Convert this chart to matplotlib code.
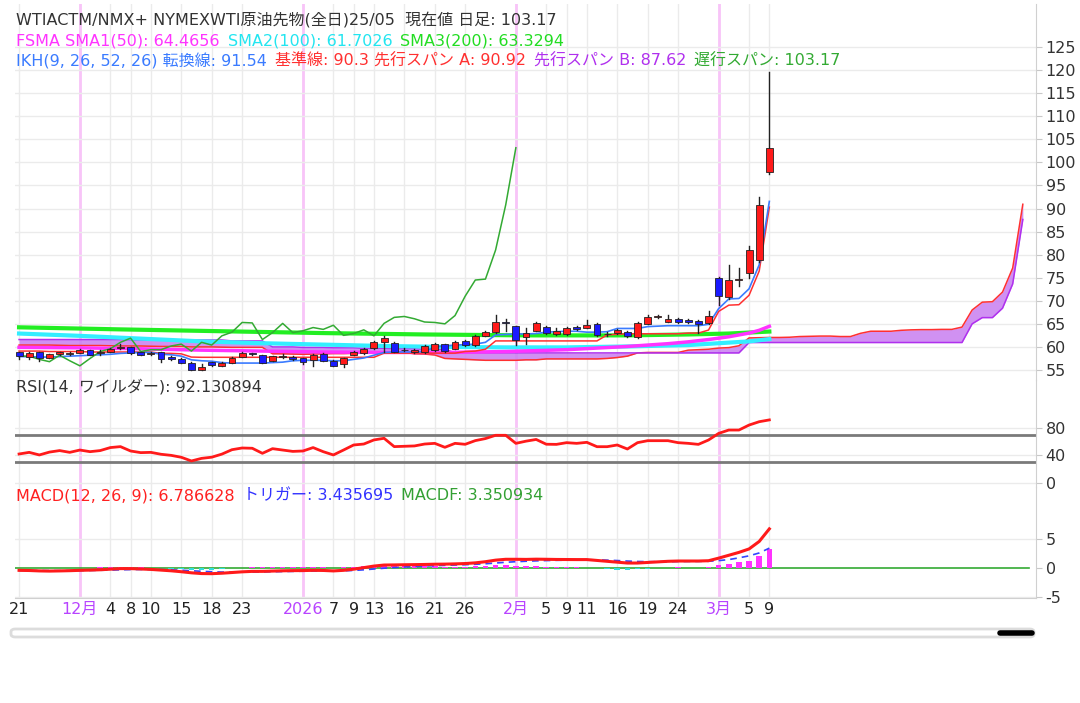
import matplotlib
matplotlib.use('Agg')
import matplotlib.pyplot as plt
import matplotlib.patches as mpatches
import numpy as np

plt.rcParams['font.family'] = ['DejaVu Sans', 'Noto Sans CJK JP']
plt.rcParams['axes.unicode_minus'] = False

W, H = 1080, 703

# ---- data (bar index 0 = 11/21, 74 = 3/9) ----
opens = [58.8, 57.9, 58.8, 57.7, 58.4, 58.55, 58.75, 59.3, 58.6, 58.9,
         59.7, 59.9, 58.9, 58.5, 58.8, 57.9, 57.3, 56.6, 55.0, 56.7,
         55.9, 56.6, 57.9, 58.6, 58.2, 57.0, 57.8, 57.9, 57.5, 57.2,
         58.5, 57.0, 56.3, 58.3, 58.6, 59.7, 61.0, 60.9, 59.3, 58.8,
         58.8, 59.3, 60.6, 59.6, 61.3, 60.4, 62.4, 63.3, 65.4, 64.5,
         62.1, 63.5, 64.4, 62.9, 62.7, 64.4, 64.1, 65.0, 62.7, 63.1,
         63.2, 62.1, 65.0, 66.5, 65.5, 66.1, 65.8, 65.7, 65.1, 75.0,
         70.8, 74.5, 76.0, 78.8, 98.0]
highs = [59.0, 58.8, 58.9, 58.5, 59.0, 59.0, 59.6, 59.4, 59.3, 59.8,
         60.6, 60.0, 59.0, 58.9, 58.9, 58.0, 57.5, 56.7, 56.4, 56.8,
         56.7, 57.8, 58.8, 58.7, 58.3, 58.1, 58.4, 58.0, 57.6, 58.4,
         58.6, 57.1, 57.6, 59.2, 59.8, 61.2, 62.4, 61.0, 59.8, 59.5,
         60.4, 60.8, 60.7, 61.2, 61.4, 62.6, 63.4, 67.0, 66.0, 64.6,
         64.0, 65.5, 64.5, 64.0, 64.4, 64.6, 65.9, 65.1, 63.2, 63.9,
         63.4, 65.3, 67.0, 66.9, 67.0, 66.3, 66.0, 65.8, 67.8, 75.1,
         77.8, 77.0, 81.9, 92.4, 119.5]
lows = [57.4, 57.4, 57.0, 57.5, 58.3, 58.3, 58.6, 58.2, 58.3, 58.8,
        59.5, 58.5, 58.2, 58.2, 56.8, 57.2, 56.5, 55.0, 54.9, 55.9,
        55.8, 56.5, 57.8, 58.3, 56.5, 56.9, 57.6, 57.2, 56.3, 55.8,
        56.9, 55.8, 55.6, 58.2, 58.5, 59.6, 59.0, 58.9, 59.1, 58.7,
        58.7, 59.2, 59.0, 59.5, 60.3, 60.3, 62.3, 63.0, 63.5, 60.5,
        60.6, 63.4, 62.9, 62.6, 62.6, 63.6, 64.0, 62.4, 62.4, 62.9,
        62.2, 62.0, 64.9, 66.3, 65.4, 65.2, 65.1, 63.1, 65.0, 69.1,
        70.3, 73.2, 74.9, 78.5, 97.5]
closes = [58.0, 58.6, 57.7, 58.4, 58.8, 58.65, 59.3, 58.3, 59.0, 59.6,
          60.0, 58.6, 58.3, 58.7, 57.3, 57.3, 56.6, 55.1, 55.7, 56.0,
          56.6, 57.7, 58.6, 58.4, 56.6, 58.0, 58.0, 57.3, 56.8, 58.2,
          57.0, 55.9, 57.5, 59.0, 59.6, 61.0, 61.9, 59.0, 59.4, 59.4,
          60.2, 60.6, 59.1, 61.0, 60.4, 62.4, 63.2, 65.3, 65.2, 61.6,
          63.1, 65.1, 63.1, 63.5, 64.2, 63.8, 64.7, 62.5, 62.9, 63.7,
          62.4, 65.1, 66.4, 66.6, 66.1, 65.4, 65.3, 65.0, 66.8, 71.0,
          74.5, 74.7, 81.0, 90.8, 103.17]

# moving averages (sampled bars)
sma1_x = [0, 6, 12, 18, 24, 30, 36, 42, 48, 54, 60, 64, 66, 68, 70, 72, 73, 74]
sma1_y = [59.9, 59.8, 59.6, 59.3, 59.1, 58.9, 58.8, 58.8, 59.0, 59.4, 60.1,
          60.7, 61.1, 61.6, 62.2, 63.0, 63.6, 64.47]
sma2_x = [0, 6, 12, 18, 24, 30, 36, 42, 48, 54, 60, 66, 69, 72, 74]
sma2_y = [62.9, 62.4, 61.8, 61.2, 60.8, 60.5, 60.2, 60.0, 59.9, 59.9, 60.1,
          60.4, 60.8, 61.2, 61.70]
sma3_x = [0, 10, 20, 30, 40, 50, 60, 66, 70, 74]
sma3_y = [64.25, 63.8, 63.4, 63.0, 62.7, 62.5, 62.5, 62.7, 62.9, 63.33]

# ichimoku
tenkan = [57.9, 57.9, 57.8, 57.8, 57.9, 58.0, 58.1, 58.2, 58.3, 58.4,
          58.6, 58.7, 58.8, 58.8, 58.4, 58.3, 58.0, 57.2, 57.0, 56.9,
          56.6, 56.5, 56.5, 56.5, 56.5, 56.6, 56.7, 57.0, 57.1, 57.1,
          57.1, 57.0, 57.0, 57.3, 57.6, 58.2, 58.8, 58.9, 58.9, 58.9,
          59.0, 60.0, 60.2, 60.4, 60.5, 60.6, 61.0, 62.6, 62.7, 62.8,
          62.8, 62.9, 63.2, 63.3, 63.4, 63.4, 63.2, 63.2, 63.3, 64.0,
          64.0, 64.0, 64.4, 64.5, 64.6, 64.6, 64.6, 64.6, 64.9, 68.3,
          70.4, 70.5, 72.6, 77.8, 91.54]
kijun = [59.1, 59.1, 59.1, 59.0, 59.0, 59.0, 59.0, 58.9, 58.9, 58.9,
         58.9, 58.9, 58.9, 58.9, 58.6, 58.6, 58.5, 57.8, 57.75, 57.75,
         57.75, 57.75, 57.75, 57.75, 57.75, 57.75, 57.75, 57.75, 57.75, 57.75,
         57.75, 57.75, 57.75, 57.75, 57.75, 57.75, 58.65, 58.65, 58.65, 58.65,
         58.65, 58.65, 58.65, 58.65, 59.0, 59.1, 59.5, 61.3, 61.3, 61.3,
         61.3, 61.3, 61.3, 61.3, 61.3, 61.3, 61.3, 61.3, 62.6, 62.75,
         62.85, 62.85, 62.85, 62.85, 62.85, 62.85, 63.0, 63.0, 63.65, 67.7,
         69.05, 69.15, 71.2, 76.45, 90.3]
# leading spans, bar index 0..99
span_a = [60.4, 60.4, 60.4, 60.4, 60.35, 60.3, 60.3, 60.3, 60.3, 60.25,
          60.2, 60.2, 60.2, 60.15, 60.1, 60.1, 60.1, 60.0, 60.0, 60.0,
          59.95, 59.9, 59.9, 59.9, 59.9, 58.5, 58.5, 58.45, 58.4, 58.45,
          58.5, 58.55, 58.55, 58.6, 58.65, 58.75, 58.8, 58.85, 58.85, 58.5,
          58.45, 58.25, 57.5, 57.4, 57.3, 57.2, 57.1, 57.1, 57.1, 57.1,
          57.2, 57.2, 57.4, 57.4, 57.4, 57.4, 57.4, 57.4, 57.5, 57.7,
          58.0, 58.7, 58.8, 58.8, 58.8, 58.8, 59.3, 59.4, 59.5, 59.75,
          59.85, 60.25, 61.95, 62.0, 62.05, 62.05, 62.1, 62.25, 62.3, 62.35,
          62.35, 62.25, 62.25, 62.95, 63.4, 63.4, 63.4, 63.6, 63.7, 63.75,
          63.75, 63.8, 63.8, 64.3, 68.0, 69.7, 69.8, 71.9, 77.1, 90.92]
span_b = [61.6, 61.6, 61.6, 61.6, 61.6, 61.6, 61.6, 61.6, 61.6, 61.6,
          61.6, 61.5, 61.5, 61.5, 61.5, 61.5, 61.5, 61.5, 61.5, 61.5,
          61.5, 61.3, 61.3, 61.3, 61.3, 60.0, 60.0, 60.0, 59.9, 59.9,
          59.9, 59.8, 59.8, 59.8, 59.7, 59.7, 59.7, 59.6, 59.6, 59.6,
          59.5, 59.5, 59.5, 58.7, 58.7, 58.7, 58.7, 58.7, 58.7, 58.7,
          58.7, 58.7, 58.7, 58.7, 58.7, 58.7, 58.7, 58.7, 58.7, 58.7,
          58.7, 58.7, 58.7, 58.7, 58.7, 58.7, 58.7, 58.7, 58.7, 58.7,
          58.7, 58.7, 60.95, 60.95, 60.95, 60.95, 60.95, 60.95, 60.95, 60.95,
          60.95, 60.95, 60.95, 60.95, 60.95, 60.95, 60.95, 60.95, 60.95, 60.95,
          60.95, 60.95, 60.95, 60.95, 65.0, 66.35, 66.35, 68.4, 73.65, 87.62]
lag = 25

rsi = [42.2, 44.6, 40.8, 45.0, 47.2, 44.6, 48.0, 45.6, 47.2, 51.6,
       53.0, 46.6, 44.2, 44.6, 41.8, 40.2, 37.4, 32.0, 35.8, 37.5,
       42.0, 48.5, 51.0, 50.6, 43.2, 50.0, 48.0, 46.0, 46.6, 51.6,
       45.6, 40.8, 48.0, 55.4, 56.8, 62.8, 65.2, 53.0, 53.5, 54.0,
       56.8, 57.8, 52.0, 57.8, 56.4, 61.8, 64.8, 69.6, 69.6, 57.8,
       61.0, 63.5, 56.5, 56.3, 58.8, 57.8, 59.3, 52.9, 52.9, 55.4,
       49.5, 58.8, 61.7, 61.7, 61.7, 58.8, 57.8, 56.3, 62.7, 72.4,
       77.3, 77.3, 84.6, 89.5, 92.13]

macd = [-0.42, -0.45, -0.52, -0.55, -0.52, -0.48, -0.42, -0.38, -0.32, -0.22,
        -0.12, -0.12, -0.18, -0.26, -0.38, -0.5, -0.66, -0.85, -0.98, -1.0,
        -0.92, -0.8, -0.68, -0.6, -0.6, -0.55, -0.5, -0.47, -0.46, -0.42,
        -0.44, -0.52, -0.42, -0.22, 0.05, 0.32, 0.5, 0.52, 0.55, 0.57,
        0.6, 0.64, 0.66, 0.7, 0.76, 0.88, 1.08, 1.35, 1.5, 1.5,
        1.48, 1.52, 1.5, 1.47, 1.46, 1.45, 1.45, 1.3, 1.15, 1.0,
        0.85, 0.85, 0.95, 1.05, 1.15, 1.2, 1.2, 1.2, 1.25, 1.7,
        2.2, 2.7, 3.3, 4.6, 6.79]
trigger = [-0.45, -0.45, -0.46, -0.47, -0.48, -0.47, -0.46, -0.44, -0.41, -0.37,
           -0.33, -0.29, -0.27, -0.27, -0.29, -0.33, -0.4, -0.49, -0.59, -0.67,
           -0.72, -0.74, -0.73, -0.71, -0.69, -0.66, -0.63, -0.6, -0.57, -0.54,
           -0.52, -0.52, -0.5, -0.44, -0.33, -0.19, -0.05, 0.07, 0.17, 0.25,
           0.32, 0.39, 0.45, 0.5, 0.56, 0.63, 0.72, 0.85, 0.98, 1.08,
           1.16, 1.23, 1.28, 1.32, 1.35, 1.37, 1.42, 1.4, 1.35, 1.28,
           1.19, 1.12, 1.09, 1.08, 1.09, 1.11, 1.13, 1.14, 1.16, 1.27,
           1.45, 1.75, 2.1, 2.6, 3.44]
macdf = [0.03, 0.0, -0.06, -0.08, -0.04, -0.01, 0.04, 0.06, 0.09, 0.15,
         0.21, 0.17, 0.09, 0.01, -0.09, -0.17, -0.26, -0.36, -0.39, -0.33,
         -0.2, -0.06, 0.05, 0.11, 0.09, 0.11, 0.13, 0.13, 0.11, 0.12,
         0.08, 0.0, 0.08, 0.22, 0.38, 0.51, 0.55, 0.45, 0.38, 0.32,
         0.28, 0.25, 0.21, 0.2, 0.2, 0.25, 0.36, 0.5, 0.52, 0.42,
         0.32, 0.29, 0.22, 0.15, 0.11, 0.08, 0.03, -0.1, -0.2, -0.28,
         -0.34, -0.27, -0.14, -0.03, 0.06, 0.09, 0.07, 0.06, 0.09, 0.43,
         0.75, 0.95, 1.2, 2.0, 3.35]

tick_idx = [0, 6, 9, 11, 13, 16, 19, 22, 28, 31, 33, 35, 38, 41, 44, 49,
            52, 54, 56, 59, 62, 65, 69, 72, 74]
tick_lbl = ['21', '12月', '4', '8', '10', '15', '18', '23', '2026', '7', '9',
            '13', '16', '21', '26', '2月', '5', '9', '11', '16', '19', '24',
            '3月', '5', '9']
month_idx = [6, 28, 49, 69]

# legend rows: (text, colour)
row1 = [('WTIACTM/NMX+ NYMEXWTI原油先物(全日)25/05  現在値 日足: 103.17', '#333333')]
row2 = [('FSMA SMA1(50): 64.4656', '#ff33ff'),
        ('SMA2(100): 61.7026', '#22e5f0'),
        ('SMA3(200): 63.3294', '#22dd22')]
row3 = [('IKH(9, 26, 52, 26) 転換線: 91.54', '#3a7bff'),
        ('基準線: 90.3 先行スパン A: 90.92', '#ff3030'),
        ('先行スパン B: 87.62', '#b030ee'),
        ('遅行スパン: 103.17', '#33aa33')]
row_rsi = [('RSI(14, ワイルダー): 92.130894', '#333333')]
row_macd = [('MACD(12, 26, 9): 6.786628', '#ff2020'),
            ('トリガー: 3.435695', '#3333ff'),
            ('MACDF: 3.350934', '#33a033')]

# ---- layout helpers ----
def fx(px):
    return px / W

def fy(py):
    return 1 - py / H

fig = plt.figure(figsize=(W / 100, H / 100), dpi=100)
L, R = 15, 1036
ax_p = fig.add_axes([fx(L), fy(380), fx(R) - fx(L), fy(4) - fy(380)])
ax_r = fig.add_axes([fx(L), fy(487), fx(R) - fx(L), fy(380) - fy(487)])
ax_m = fig.add_axes([fx(L), fy(598), fx(R) - fx(L), fy(487) - fy(598)])

FS = 11.5
XMIN, XMAX = -0.4, 100.3
for ax in (ax_p, ax_r, ax_m):
    ax.set_xlim(XMIN, XMAX)
    ax.patch.set_alpha(0)
    for s in ('top', 'left', 'bottom'):
        ax.spines[s].set_visible(False)
    ax.spines['right'].set_color('#d0d0d0')
    ax.yaxis.tick_right()
    ax.tick_params(axis='y', length=4, color='#c8c8c8', labelsize=FS,
                   labelcolor='#333333', pad=3)
    for t in tick_idx:
        ax.axvline(t, color='#ebebeb', lw=1, zorder=0)
    for t in month_idx:
        ax.axvline(t, color='#f8c4f8', lw=2, zorder=0)

# price axis: 55 at y=370px, 4.614 px per unit
ax_p.set_ylim(52.83, 55 + 366 / 4.614)
ax_r.set_ylim(-6.15, 150.6)
ax_m.set_ylim(-5.23, 14.07)

# ---- price panel ----
pt = list(range(55, 130, 5))
ax_p.set_yticks(pt)
for v in pt:
    ax_p.axhline(v, color='#ebebeb', lw=1, zorder=0)
ax_p.set_xticks([])

xa = np.arange(len(span_a))
ax_p.fill_between(xa, span_a, span_b, color='#c87ef0', alpha=0.85, lw=0, zorder=1)
ax_p.plot(xa, span_a, color='#ff3030', lw=1.1, zorder=2)
ax_p.plot(xa, span_b, color='#b030ee', lw=1.1, zorder=2)

ax_p.plot(sma3_x, sma3_y, color='#22ee22', lw=3, zorder=3)
ax_p.plot(sma2_x, sma2_y, color='#33eeff', lw=3, zorder=3)
ax_p.plot(sma1_x, sma1_y, color='#ff33ff', lw=2.5, zorder=3)

xb = np.arange(len(closes))
ax_p.plot(xb, kijun, color='#ff3030', lw=1.1, zorder=4)
ax_p.plot(xb, tenkan, color='#3a7bff', lw=1.2, zorder=4)
chikou = closes[lag:]
ax_p.plot(np.arange(len(chikou)), chikou, color='#33aa33', lw=1.1, zorder=4)

bw = 0.68
for i in range(len(closes)):
    o, h, l, c = opens[i], highs[i], lows[i], closes[i]
    ax_p.plot([i, i], [l, h], color='#222222', lw=1, zorder=5)
    col = '#ff1a1a' if c >= o else '#1a1aff'
    lo, hi = min(o, c), max(o, c)
    ax_p.add_patch(mpatches.Rectangle((i - bw / 2, lo), bw, max(hi - lo, 0.12),
                                      facecolor=col, edgecolor='#222222',
                                      lw=0.6, zorder=6))

# ---- RSI panel ----
ax_r.set_yticks([0, 40, 80])
for v in (0, 40, 80):
    ax_r.axhline(v, color='#ebebeb', lw=1, zorder=0)
ax_r.axhline(70, color='#7a7a7a', lw=2, zorder=1)
ax_r.axhline(30, color='#7a7a7a', lw=2, zorder=1)
ax_r.plot(xb, rsi, color='#ff1a1a', lw=2, zorder=3)
ax_r.set_xticks([])

# ---- MACD panel ----
ax_m.set_yticks([-5, 0, 5])
for v in (-5, 5):
    ax_m.axhline(v, color='#ebebeb', lw=1, zorder=0)
ax_m.plot([XMIN, 99.6], [0, 0], color='#33aa33', lw=1.2, zorder=1)
hcol = ['#ff33ff' if v >= 0 else '#33dddd' for v in macdf]
ax_m.bar(xb, macdf, width=0.55, color=hcol, zorder=2)
ax_m.plot(xb, trigger, color='#3344ff', lw=1.2, ls=(0, (4, 3)), zorder=3)
ax_m.plot(xb, macd, color='#ff1a1a', lw=2.2, zorder=4)
ax_m.spines['bottom'].set_visible(True)
ax_m.spines['bottom'].set_color('#d0d0d0')
ax_m.set_xticks(tick_idx)
ax_m.set_xticklabels(tick_lbl, fontsize=FS)
ax_m.tick_params(axis='x', length=0, pad=3)
for lab, txt in zip(ax_m.get_xticklabels(), tick_lbl):
    lab.set_color('#b844ff' if txt in ('12月', '2026', '2月', '3月') else '#222222')

# ---- legend rows, laid out one after another ----
renderer = fig.canvas.get_renderer()

def text_row(parts, y_px, x_px=16, gap=8):
    x = x_px
    for s, c in parts:
        t = fig.text(fx(x), fy(y_px), s, fontsize=FS, color=c, va='center')
        bb = t.get_window_extent(renderer=renderer)
        x = bb.x1 + gap

text_row(row1, 20)
text_row(row2, 41)
text_row(row3, 61)
text_row(row_rsi, 387)
text_row(row_macd, 496)

# ---- scrollbar ----
fig.patches.append(mpatches.FancyBboxPatch(
    (fx(11), fy(637)), fx(1034) - fx(11), fy(629) - fy(637),
    boxstyle='round,pad=0,rounding_size=0.004', transform=fig.transFigure,
    facecolor='white', edgecolor='#dcdcdc', lw=2))
fig.add_artist(plt.Line2D([fx(1000), fx(1032)], [fy(633), fy(633)],
                          transform=fig.transFigure, color='black', lw=4,
                          solid_capstyle='round'))

fig.savefig('out.png', dpi=100)
